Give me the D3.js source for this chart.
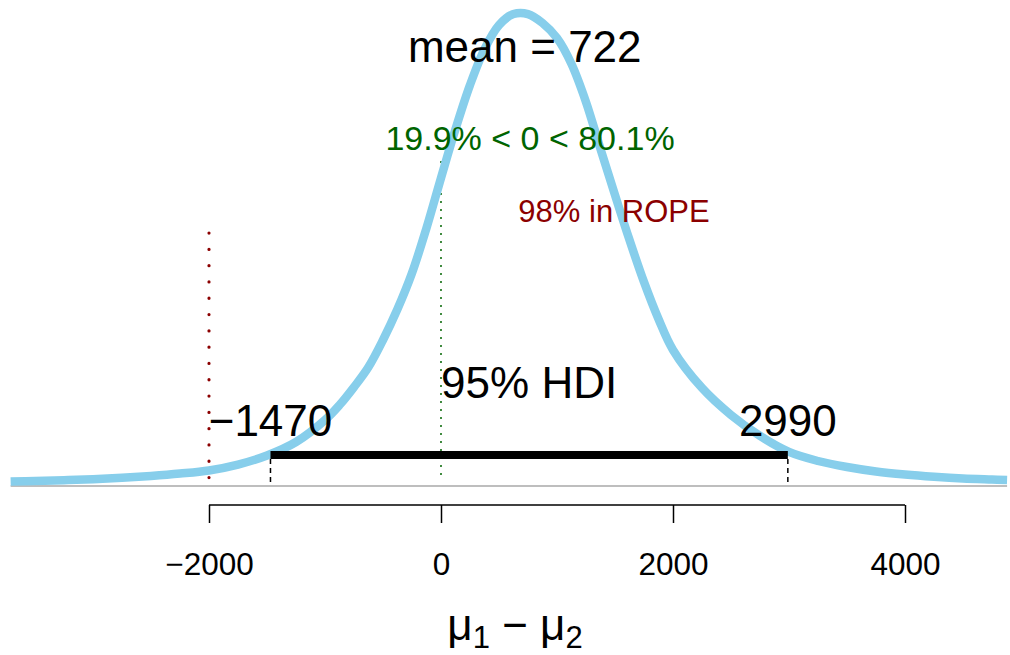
<!DOCTYPE html>
<html>
<head>
<meta charset="utf-8">
<script src="https://cdn.jsdelivr.net/npm/d3@7"></script>
<style>
  html, body { margin: 0; padding: 0; background: #fff; }
  svg { display: block; font-family: "Liberation Sans", Arial, Helvetica, sans-serif; }
</style>
</head>
<body>
<svg id="chart" width="1010" height="655"></svg>
<script>
// ---- data ----
const paramValues = [-3710, -3500, -3250, -3000, -2750, -2500, -2250, -2000, -1750, -1500, -1250, -1000, -875, -750, -625, -500, -375, -250, -125, 0, 125, 250, 375, 500, 625, 750, 875, 1000, 1125, 1250, 1375, 1500, 1625, 1750, 1875, 2000, 2250, 2500, 2750, 3000, 3250, 3500, 3750, 4000, 4250, 4500, 4750, 4880];
const densityE4   = [0.026, 0.031, 0.037, 0.044, 0.055, 0.069, 0.087, 0.111, 0.156, 0.225, 0.328, 0.496, 0.610, 0.747, 0.900, 1.106, 1.342, 1.617, 1.960, 2.342, 2.715, 3.051, 3.325, 3.508, 3.592, 3.592, 3.524, 3.409, 3.211, 2.921, 2.563, 2.212, 1.869, 1.548, 1.266, 1.030, 0.740, 0.534, 0.374, 0.252, 0.183, 0.137, 0.103, 0.080, 0.063, 0.050, 0.042, 0.038];
const tickValues = [-2000, 0, 2000, 4000];
const meanValue = 722;
const hdiLimits = [-1470, 2990];
const compValue = 0;
const compText = "19.9% < 0 < 80.1%";
const ropeLow = -2000;
const ropeText = "98% in ROPE";

// ---- scales ----
const svg = d3.select("#chart");
const x = d3.scaleLinear().domain([-2000, 4000]).range([209, 905]);
const y = d3.scaleLinear().domain([0, 3.6]).range([485, 13]);
const fmtTick = v => (v < 0 ? "\u2212" + Math.abs(v) : String(v));

const pts = paramValues.map((v, i) => [v, densityE4[i]]);

// baseline
svg.append("line")
  .attr("x1", x(paramValues[0])).attr("x2", x(paramValues[paramValues.length - 1]))
  .attr("y1", y(0) + 1).attr("y2", y(0) + 1)
  .attr("stroke", "#bebebe").attr("stroke-width", 2);

// HDI end dashed lines
hdiLimits.forEach(v => {
  svg.append("line")
    .attr("x1", x(v)).attr("x2", x(v))
    .attr("y1", 459).attr("y2", y(0))
    .attr("stroke", "#000").attr("stroke-width", 1.5)
    .attr("stroke-dasharray", "5,4");
});

// comp value (green dotted)
svg.append("line")
  .attr("x1", x(compValue)).attr("x2", x(compValue))
  .attr("y1", 162).attr("y2", 479)
  .attr("stroke", "#006400").attr("stroke-width", 2)
  .attr("stroke-linecap", "round")
  .attr("stroke-dasharray", "0.1,7.9");

// ROPE (dark red dotted)
svg.append("line")
  .attr("x1", x(ropeLow)).attr("x2", x(ropeLow))
  .attr("y1", 233).attr("y2", 478)
  .attr("stroke", "#8b0000").attr("stroke-width", 3.2)
  .attr("stroke-linecap", "round")
  .attr("stroke-dasharray", "0.1,16.2");

// density curve
svg.append("path")
  .datum(pts)
  .attr("d", d3.line().x(d => x(d[0])).y(d => y(d[1])).curve(d3.curveCatmullRom.alpha(0.5)))
  .attr("fill", "none")
  .attr("stroke", "#87ceeb")
  .attr("stroke-width", 8.5)
  .attr("stroke-linejoin", "round");

// HDI bar
svg.append("line")
  .attr("x1", x(hdiLimits[0])).attr("x2", x(hdiLimits[1]))
  .attr("y1", 455).attr("y2", 455)
  .attr("stroke", "#000").attr("stroke-width", 8);

// texts
svg.append("text").attr("x", x(meanValue)).attr("y", 62)
  .attr("text-anchor", "middle").attr("font-size", 44).attr("fill", "#000")
  .text("mean = " + meanValue);

svg.append("text").attr("x", 530).attr("y", 150)
  .attr("text-anchor", "middle").attr("font-size", 34).attr("fill", "#006400")
  .text(compText);

svg.append("text").attr("x", 614).attr("y", 222)
  .attr("text-anchor", "middle").attr("font-size", 31).attr("fill", "#8b0000")
  .text(ropeText);

svg.append("text").attr("x", x((hdiLimits[0] + hdiLimits[1]) / 2)).attr("y", 398)
  .attr("text-anchor", "middle").attr("font-size", 44).attr("fill", "#000")
  .text("95% HDI");

hdiLimits.forEach(v => {
  svg.append("text").attr("x", x(v)).attr("y", 436)
    .attr("text-anchor", "middle").attr("font-size", 44).attr("fill", "#000")
    .text(fmtTick(v));
});

// axis
const axis = d3.axisBottom(x).tickValues(tickValues).tickSize(18).tickSizeOuter(0).tickFormat(fmtTick);
const gAxis = svg.append("g").attr("transform", "translate(0,505)").call(axis);
gAxis.select(".domain").attr("stroke", "#000").attr("stroke-width", 1.5)
  .attr("d", `M${x(tickValues[0])},0H${x(tickValues[tickValues.length - 1])}`);
gAxis.selectAll(".tick line").attr("stroke", "#000").attr("stroke-width", 1.5);
gAxis.selectAll(".tick text")
  .attr("font-size", 31.5).attr("font-family", "Liberation Sans, Arial, sans-serif")
  .attr("fill", "#000").attr("y", 0).attr("dy", 0)
  .attr("transform", "translate(0,70)");

// axis title  mu_1 - mu_2
const title = svg.append("text").attr("x", 515).attr("y", 640)
  .attr("text-anchor", "middle").attr("font-size", 44).attr("fill", "#000");
title.append("tspan").text("\u03bc");
title.append("tspan").attr("font-size", 31).attr("dy", 8).text("1");
title.append("tspan").attr("dy", -8).text(" \u2212 \u03bc");
title.append("tspan").attr("font-size", 31).attr("dy", 8).text("2");
</script>
</body>
</html>
